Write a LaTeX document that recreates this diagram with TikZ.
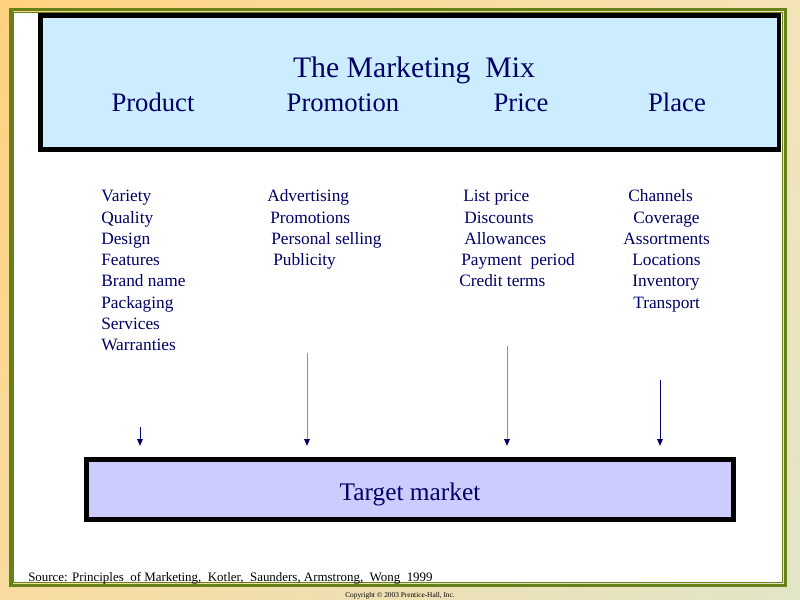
\documentclass[tikz,border=0pt]{standalone}
\usepackage{fontspec}
\setmainfont{Liberation Serif}
\usetikzlibrary{arrows.meta,shadings}
\definecolor{ink}{HTML}{000066}
\definecolor{framegreen}{HTML}{66801A}
\definecolor{skyfill}{HTML}{CCECFF}
\definecolor{lilac}{HTML}{CCCCFF}
\definecolor{peach}{HTML}{FFD27F}
\definecolor{sand}{HTML}{F5E3B8}
\definecolor{wheat}{HTML}{F8DBA0}
\definecolor{sage}{HTML}{E2E5C8}
\begin{document}
\begin{tikzpicture}[x=.75pt,y=-.75pt,
	title/.style={text=ink,font=\fontsize{22.3}{26}\selectfont,anchor=base},
	head/.style={text=ink,font=\fontsize{20}{24}\selectfont,anchor=base},
	item/.style={text=ink,font=\fontsize{13}{15}\selectfont,anchor=base west,inner sep=0pt},
	box/.style={draw=black,line width=3.6pt,inner sep=0pt},
	arr/.style={draw=ink,line width=.75pt,-{Triangle[width=4.2pt,length=5pt,color=ink]}},
	arrlight/.style={arr,draw=ink!45}]
	\shade[upper left=peach,upper right=sand,lower left=wheat,lower right=sage](0,0)rectangle(800,600);
	\useasboundingbox(0,0)rectangle(800,600);
	\draw[framegreen,line width=2.5pt](11,9.5)rectangle(785.5,585.5);
	\draw[framegreen,fill=white,line width=.75pt](13.7,12.3)rectangle(782.5,582.5);
	% the mix
	\node[box,fill=skyfill,minimum width=553.9pt,minimum height=100.3pt](mix)at(409.75,82.65){};
	\node[title](ttl)at(414,77.3){The Marketing\ \ Mix};
	\node[head](hprod)at(153,111.7){Product};
	\node[head](hprom)at(343,111.7){Promotion};
	\node[head](hpric)at(521,111.7){Price};
	\node[head](hplac)at(677,111.7){Place};
	\foreach\x/\t[count=\i]in{101/Variety,101/Quality,101/Design,101/Features,101/Brand name,101/Packaging,101/Services,101/Warranties}
		\node[item](prod\i)at(\x,180.4+21.3*\i){\t};
	\foreach\x/\t[count=\i]in{267/Advertising,270/Promotions,271/Personal selling,273/Publicity}
		\node[item](prom\i)at(\x,180.4+21.3*\i){\t};
	\foreach\x/\t[count=\i]in{463/List price,464/Discounts,464/Allowances,461/Payment\ \ period,459/Credit terms}
		\node[item](pric\i)at(\x,180.4+21.3*\i){\t};
	\foreach\x/\t[count=\i]in{628/Channels,633/Coverage,623/Assortments,632/Locations,632/Inventory,633/Transport}
		\node[item](plac\i)at(\x,180.4+21.3*\i){\t};
	% target
	\node[box,fill=lilac,minimum width=485.25pt,minimum height=45pt,text=ink,text height=15.75pt,text depth=0pt,font=\fontsize{19}{22}\selectfont](tm)at(410,489.5){Target market};
	\coordinate(a1)at(140,427);
	\coordinate(a2)at(307,353);
	\coordinate(a3)at(507,346);
	\coordinate(a4)at(660,380);
	\draw[arr,shorten >=8.5pt](a1)--(a1|-tm.north);
	\draw[arrlight,shorten >=8.5pt](a2)--(a2|-tm.north);
	\draw[arrlight,shorten >=8.5pt](a3)--(a3|-tm.north);
	\draw[arr,shorten >=8.5pt](a4)--(a4|-tm.north);
	\node[anchor=base west,inner sep=0pt,font=\fontsize{9.7}{12}\selectfont](src)at(28,581.5){Source: Principles\ \ of Marketing,\ \ Kotler,\ \ Saunders, Armstrong,\ \ Wong\ \ 1999};
	\node[anchor=base,inner sep=0pt,font=\fontsize{5.5}{6}\selectfont](copy)at(400,597){Copyright © 2003 Prentice-Hall, Inc.};
\end{tikzpicture}
\end{document}
